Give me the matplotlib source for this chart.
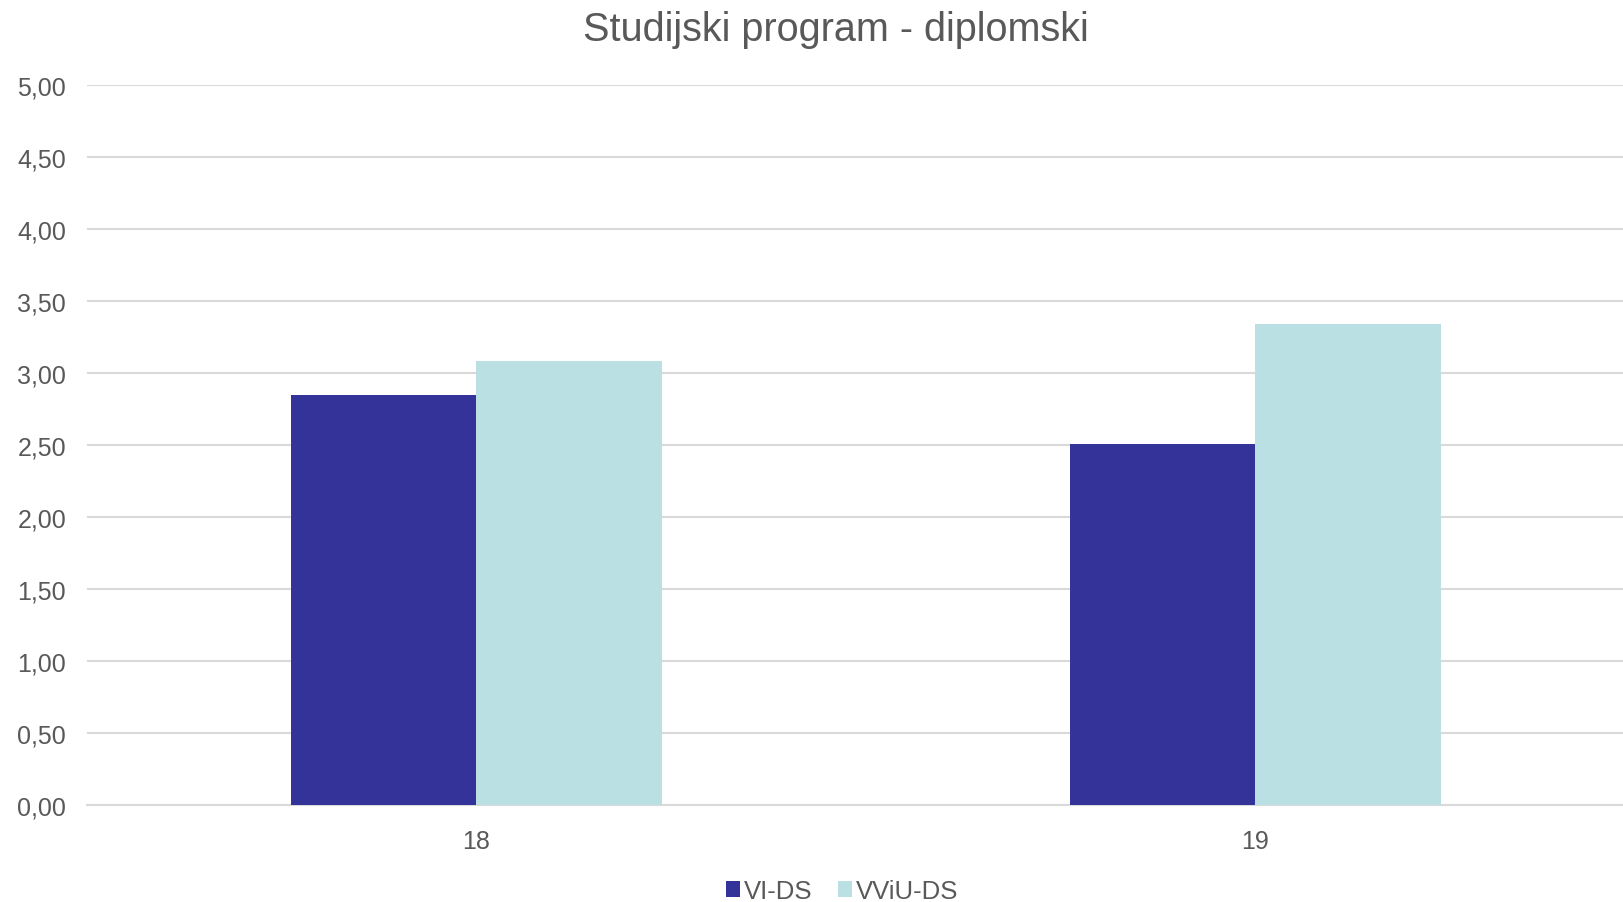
import matplotlib
matplotlib.use("Agg")
import matplotlib.pyplot as plt
import numpy as np

categories = ["18", "19"]
series_names = ["VI-DS", "VViU-DS"]
vi_ds = [2.85, 2.51]
vviu_ds = [3.08, 3.34]
yticks = [0, 0.5, 1, 1.5, 2, 2.5, 3, 3.5, 4, 4.5, 5]

colors = ["#343399", "#BAE0E3"]
text_color = "#595959"
grid_color = "#D9D9D9"

plt.rcParams['font.family'] = ['Liberation Sans', 'DejaVu Sans']

W, H = 1623, 903
fig = plt.figure(figsize=(W / 100, H / 100), dpi=100)
left_px, right_px, top_px, bot_px = 87, 1623, 86, 806
ax = fig.add_axes([left_px / W, (H - bot_px) / H, (right_px - left_px) / W, (bot_px - top_px) / H])

x = np.arange(len(categories))
bw = 0.238
ax.bar(x - bw / 2, vi_ds, width=bw, color=colors[0], label=series_names[0], zorder=3)
ax.bar(x + bw / 2, vviu_ds, width=bw, color=colors[1], label=series_names[1], zorder=3)

ax.set_ylim(0, 5)
ax.set_xlim(-0.5, 1.472)
ax.set_yticks(yticks)
ax.set_yticklabels([f"{v:.2f}".replace(".", ",") for v in yticks])
ax.set_xticks(x)
ax.set_xticklabels(categories)
ax.tick_params(axis='both', length=0, labelsize=18, colors=text_color)
ax.tick_params(axis='y', pad=15)
ax.tick_params(axis='x', pad=17)
for lab in ax.get_yticklabels():
    lab.set_horizontalalignment('right')
ax.yaxis.grid(True, color=grid_color, linewidth=1.5, zorder=0)
for s in ["top", "right", "left"]:
    ax.spines[s].set_visible(False)
ax.spines["bottom"].set_color(grid_color)
ax.spines["bottom"].set_linewidth(1.5)

fig.text(836 / W, 1 - 30 / H, "Studijski program - diplomski", ha='center', va='center',
         fontsize=28.5, color=text_color)

handles, labels = ax.get_legend_handles_labels()
fig.legend(handles, labels, loc='center', bbox_to_anchor=(842 / W, 1 - 892 / H), ncol=2,
           frameon=False, fontsize=18.5, labelcolor=text_color, handlelength=0.55, handleheight=0.55,
           handletextpad=0.15, columnspacing=1.0)

fig.savefig("out.png", dpi=100)
